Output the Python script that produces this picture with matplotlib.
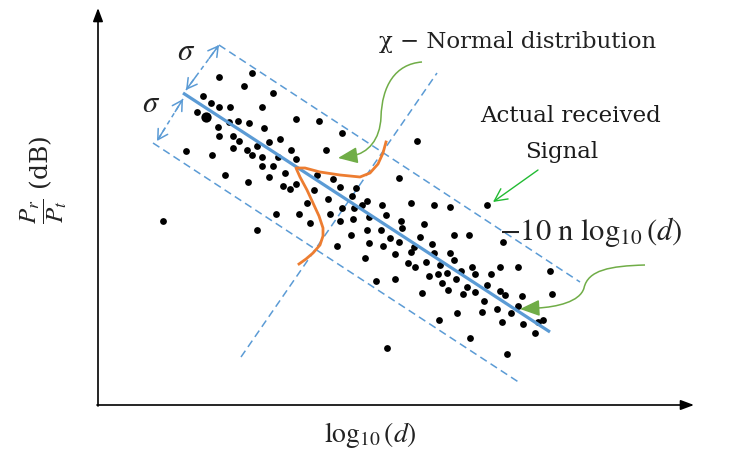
import matplotlib
matplotlib.use('Agg')
import matplotlib.pyplot as plt
from matplotlib.path import Path
from matplotlib.patches import PathPatch

plt.rcParams['font.family'] = ['DejaVu Serif']
plt.rcParams['mathtext.fontset'] = 'stix'

# scattered received-signal samples (drawing units, y grows downwards)
dot_x = [219, 252, 244, 273, 203, 211, 219, 230, 262, 197, 229, 238, 249, 296, 319,
         218, 264, 342, 219, 233, 239, 280, 269, 257, 233, 247, 291, 326, 186, 212,
         252, 262, 278, 296, 262, 273, 285, 225, 269, 317, 248, 333, 283, 296, 290,
         314, 340, 356, 352, 354, 362, 367, 328, 307, 342, 417, 399, 382, 411, 434,
         450, 487, 163, 257, 276, 299, 310, 330, 340, 353, 351, 337, 369, 386, 401,
         402, 424, 367, 381, 390, 399, 420, 454, 469, 369, 383, 414, 411, 432, 503,
         395, 434, 450, 454, 365, 426, 408, 415, 440, 472, 500, 518, 550, 429, 438,
         447, 461, 475, 491, 456, 376, 395, 442, 467, 487, 448, 463, 475, 500, 505,
         522, 552, 422, 484, 518, 497, 482, 511, 457, 502, 523, 538, 543, 535, 439,
         470, 387, 507]
dot_y = [77, 73, 86, 93, 96, 103, 107, 107, 107, 112, 122, 121, 123, 119, 121,
         127, 128, 133, 136, 136, 141, 139, 142, 146, 148, 150, 150, 150, 151, 155,
         155, 157, 157, 159, 166, 166, 173, 175, 177, 175, 182, 179, 186, 184, 189,
         190, 187, 188, 196, 208, 205, 201, 199, 203, 208, 141, 178, 205, 203, 205,
         207, 205, 221, 230, 214, 214, 223, 214, 221, 219, 235, 246, 217, 215, 221,
         228, 224, 230, 230, 238, 242, 237, 235, 235, 243, 246, 247, 252, 244, 242,
         254, 253, 253, 260, 258, 262, 263, 267, 265, 267, 267, 267, 271, 276, 274,
         273, 271, 274, 274, 279, 281, 279, 283, 287, 285, 290, 294, 292, 291, 295,
         296, 294, 293, 301, 306, 309, 312, 313, 313, 322, 324, 322, 320, 333, 320,
         338, 348, 354]
big_dot = (206, 117)

# path-loss trend line and the +/- sigma band
trend_x = [183, 550]
trend_y = [93, 332]
upper_x = [219, 580]
upper_y = [45, 282]
lower_x = [153, 520]
lower_y = [143, 383]
perp_x = [241, 437]
perp_y = [357, 73]
sigma_up_x = [186, 219]
sigma_up_y = [90, 45]
sigma_low_x = [183, 157]
sigma_low_y = [99, 141]

# hand drawn normal-distribution curve
bell_x = [386, 383, 378, 370, 360, 340, 320, 305, 296, 300, 307, 313, 319, 323, 323, 320, 313, 306, 299]
bell_y = [142, 153, 164, 173, 177, 175, 172, 168, 168, 177, 190, 203, 216, 228, 236, 245, 253, 259, 264]

# callout arrows: bezier control points (start, c1, c2, mid, c1, c2, end)
chi_pts = [(422, 62), (395, 64), (382, 86), (381, 117), (380, 140), (368, 153), (352, 156)]
chi_tip = (338, 158)
pl_pts = [(645, 265), (610, 266), (588, 270), (584, 288), (580, 302), (556, 307), (538, 308)]
pl_tip = (520, 309)
sig_tail = (538, 170)
sig_tip = (493, 202)

blue = '#5B9BD5'
orange = '#ED7D31'
green = '#70AD47'

fig = plt.figure(figsize=(7.46, 4.53), dpi=100)
ax = fig.add_axes([0, 0, 1, 1])
ax.set_xlim(0, 746)
ax.set_ylim(453, 0)
ax.axis('off')

# axes with arrow heads
ax.annotate('', xy=(98, 8), xytext=(98, 406),
            arrowprops=dict(arrowstyle='-|>,head_length=0.8,head_width=0.3', lw=1.2,
                            color='black', shrinkA=0, shrinkB=0))
ax.annotate('', xy=(694, 405), xytext=(97, 405),
            arrowprops=dict(arrowstyle='-|>,head_length=0.8,head_width=0.3', lw=1.2,
                            color='black', shrinkA=0, shrinkB=0))

# band and perpendicular
for xs, ys in [(upper_x, upper_y), (lower_x, lower_y), (perp_x, perp_y)]:
    ax.plot(xs, ys, color=blue, lw=1.1, dashes=(5, 3))

# sigma arrows
for xs, ys in [(sigma_up_x, sigma_up_y), (sigma_low_x, sigma_low_y)]:
    ax.plot(xs, ys, color=blue, lw=1.1, dashes=(3, 2.5))
    for a, b in [(0, 1), (1, 0)]:
        ax.annotate('', xy=(xs[b], ys[b]),
                    xytext=(xs[b] + 0.3 * (xs[a] - xs[b]), ys[b] + 0.3 * (ys[a] - ys[b])),
                    arrowprops=dict(arrowstyle='->,head_length=0.7,head_width=0.4', lw=1.1,
                                    color=blue, shrinkA=0, shrinkB=0))

ax.scatter(dot_x, dot_y, s=24, color='black', zorder=3, linewidths=0)
ax.scatter([big_dot[0]], [big_dot[1]], s=55, color='black', zorder=3, linewidths=0)

ax.plot(trend_x, trend_y, color=blue, lw=2.3, zorder=4, solid_capstyle='butt')
ax.plot(bell_x, bell_y, color=orange, lw=2.0, zorder=5, solid_joinstyle='round')

# green callouts
codes = [Path.MOVETO] + [Path.CURVE4] * 6
for pts, tip in [(chi_pts, chi_tip), (pl_pts, pl_tip)]:
    ax.add_patch(PathPatch(Path(pts, codes), fill=False, edgecolor=green, lw=1.1, zorder=6))
    ax.annotate('', xy=tip, xytext=pts[-1],
                arrowprops=dict(arrowstyle='-|>,head_length=1.2,head_width=0.5', lw=1.1,
                                color=green, shrinkA=0, shrinkB=0), zorder=6)
ax.annotate('', xy=sig_tip, xytext=sig_tail,
            arrowprops=dict(arrowstyle='->,head_length=0.9,head_width=0.45', lw=1.0,
                            color='#22BB33', shrinkA=0, shrinkB=0))

# labels
ax.text(518, 42, 'χ − Normal distribution', fontsize=16.5, ha='center', va='center', color='#222222')
ax.text(571, 116, 'Actual received', fontsize=16.5, ha='center', va='center', color='#1a1a1a')
ax.text(562, 152, 'Signal', fontsize=16.5, ha='center', va='center', color='#1a1a1a')
ax.text(591, 232, r'$-10\ \mathrm{n}\ \log_{10}(d)$', fontsize=22, ha='center', va='center', color='#222222')
ax.text(370, 435, r'$\log_{10}(d)$', fontsize=20, ha='center', va='center', color='#222222')
ax.text(44, 180, r'$\dfrac{P_r}{P_t}$ (dB)', fontsize=18, ha='center', va='center', rotation=90, color='#222222')
ax.text(186, 52, r'$\sigma$', fontsize=22, ha='center', va='center', color='#222222')
ax.text(151, 104, r'$\sigma$', fontsize=22, ha='center', va='center', color='#222222')

fig.savefig('out.png', dpi=100)
